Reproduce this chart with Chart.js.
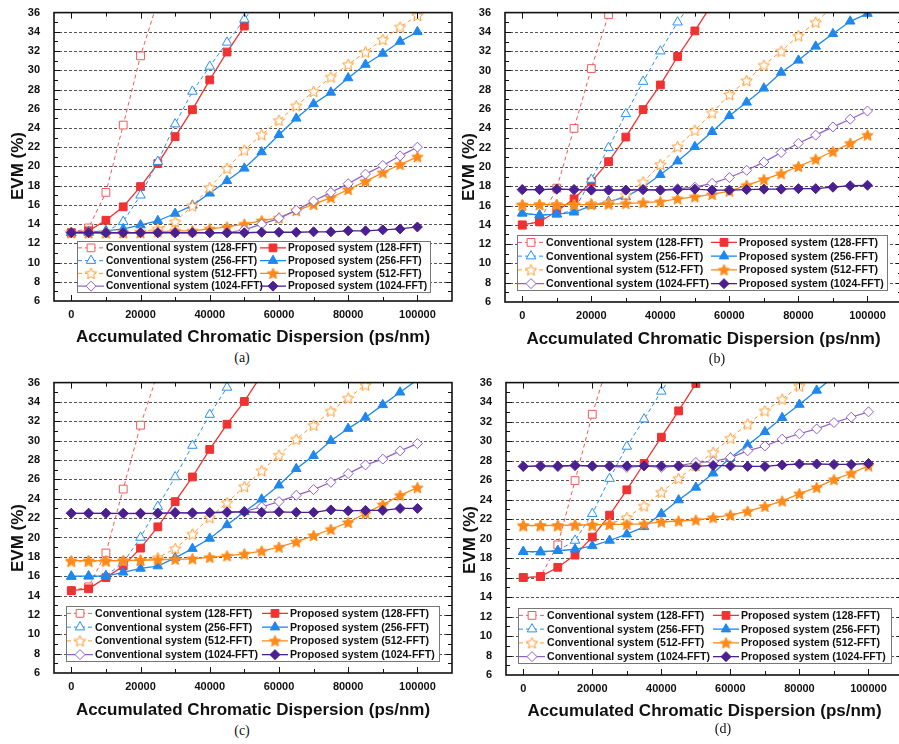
<!DOCTYPE html>
<html lang="en">
<head>
<meta charset="UTF-8">
<title>EVM vs accumulated chromatic dispersion</title>
<script src="https://cdn.jsdelivr.net/npm/chart.js"></script>
<style>
  body { margin: 0; background: #fff; overflow: hidden; }
  #page { position: relative; width: 899px; height: 744px; overflow: hidden; background: #fff; }
  #page canvas { position: absolute; }
  .cap { position: absolute; font: 14px "Liberation Serif", "Times New Roman", serif; color: #111; transform: translateX(-50%); }
</style>
</head>
<body>
<div id="page">
  <canvas id="chartA" width="460" height="348" style="left:0px;top:0px"></canvas>
  <canvas id="chartB" width="460" height="350" style="left:450px;top:0px"></canvas>
  <canvas id="chartC" width="460" height="351" style="left:0px;top:370px"></canvas>
  <canvas id="chartD" width="460" height="352" style="left:450px;top:370px"></canvas>
  <div class="cap" style="left:242px;top:350px">(a)</div>
  <div class="cap" style="left:717px;top:351px">(b)</div>
  <div class="cap" style="left:242px;top:723px">(c)</div>
  <div class="cap" style="left:723px;top:721px">(d)</div>
</div>
<script>
// accumulated CD (ps/nm), one sample every 5000
const cd = [0, 5000, 10000, 15000, 20000, 25000, 30000, 35000, 40000, 45000, 50000,
            55000, 60000, 65000, 70000, 75000, 80000, 85000, 90000, 95000, 100000];
const xTicks = [0, 20000, 40000, 60000, 80000, 100000];
const seriesLabels = [
  'Conventional system (128-FFT)', 'Proposed system (128-FFT)',
  'Conventional system (256-FFT)', 'Proposed system (256-FFT)',
  'Conventional system (512-FFT)', 'Proposed system (512-FFT)',
  'Conventional system (1024-FFT)', 'Proposed system (1024-FFT)'
];

// EVM (%) - panel (a)
const a_conv128 = [13.1, 13.6, 17.3, 24.3, 31.5, 37.2];
const a_prop128 = [13.1, 13.3, 14.4, 15.8, 17.9, 20.3, 23.1, 25.9, 29.0, 31.9, 34.6];
const a_conv256 = [13.1, 13.1, 13.2, 14.25, 17.0, 20.5, 24.4, 27.8, 30.4, 32.9, 35.3, 37.7];
const a_prop256 = [13.1, 13.2, 13.3, 13.5, 13.9, 14.35, 15.1, 15.95, 17.2, 18.5, 19.8, 21.5, 23.3, 25.0, 26.5, 27.7, 29.2, 30.6, 31.75, 33.0, 34.0];
const a_conv512 = [13.1, 13.1, 13.1, 13.1, 13.2, 13.5, 14.25, 15.9, 17.8, 19.8, 21.7, 23.3, 24.8, 26.3, 27.8, 29.3, 30.6, 31.9, 33.2, 34.5, 35.7];
const a_prop512 = [13.1, 13.1, 13.1, 13.1, 13.1, 13.2, 13.3, 13.3, 13.5, 13.7, 14.0, 14.35, 14.65, 15.4, 16.05, 16.75, 17.6, 18.45, 19.35, 20.2, 21.0];
const a_conv1024 = [13.1, 13.1, 13.1, 13.1, 13.1, 13.1, 13.1, 13.1, 13.1, 13.1, 13.4, 14.0, 14.6, 15.45, 16.4, 17.3, 18.2, 19.2, 20.1, 21.1, 22.0];
const a_prop1024 = [13.1, 13.1, 13.1, 13.1, 13.1, 13.1, 13.1, 13.1, 13.1, 13.1, 13.1, 13.15, 13.15, 13.15, 13.2, 13.2, 13.3, 13.3, 13.4, 13.5, 13.7];

// panel (b)
const b_conv128 = [13.95, 14.35, 17.8, 24.0, 30.2, 35.8];
const b_prop128 = [14.0, 14.3, 15.4, 16.7, 18.45, 20.55, 23.1, 25.95, 28.5, 31.45, 34.1, 36.9];
const b_conv256 = [15.2, 15.0, 15.1, 15.5, 18.7, 22.0, 25.5, 28.85, 32.0, 35.0, 37.5];
const b_prop256 = [15.2, 15.0, 15.1, 15.3, 16.0, 16.4, 16.9, 17.9, 19.2, 20.6, 22.1, 23.65, 25.3, 26.7, 28.15, 29.8, 31.05, 32.5, 33.8, 35.1, 35.9];
const b_conv512 = [16.0, 16.1, 16.1, 16.1, 16.2, 16.3, 17.1, 18.45, 20.25, 22.1, 23.8, 25.6, 27.5, 28.95, 30.55, 32.0, 33.6, 35.0, 36.6];
const b_prop512 = [16.1, 16.1, 16.1, 16.1, 16.1, 16.15, 16.2, 16.3, 16.4, 16.7, 16.9, 17.15, 17.5, 18.1, 18.7, 19.3, 20.05, 20.8, 21.6, 22.45, 23.3];
const b_conv1024 = [17.65, 17.65, 17.7, 17.65, 17.6, 17.6, 17.6, 17.65, 17.6, 17.75, 17.9, 18.3, 18.9, 19.65, 20.5, 21.5, 22.45, 23.3, 24.15, 24.95, 25.8];
const b_prop1024 = [17.65, 17.65, 17.7, 17.65, 17.6, 17.6, 17.6, 17.65, 17.6, 17.65, 17.7, 17.6, 17.6, 17.65, 17.7, 17.7, 17.75, 17.75, 17.9, 18.05, 18.1];

// panel (c)
const c_conv128 = [14.5, 14.9, 18.4, 25.0, 31.6, 37.0];
const c_prop128 = [14.5, 14.7, 15.85, 17.05, 18.9, 21.1, 23.7, 26.25, 29.1, 31.7, 34.05, 36.8];
const c_conv256 = [15.95, 16.0, 16.05, 17.4, 20.0, 23.2, 26.25, 29.5, 32.7, 35.5, 38.0];
const c_prop256 = [16.0, 16.0, 16.0, 16.4, 16.8, 17.05, 17.9, 18.85, 19.9, 21.3, 22.65, 23.95, 25.4, 27.1, 28.45, 30.0, 31.25, 32.4, 33.7, 35.0, 36.3];
const c_conv512 = [17.5, 17.5, 17.55, 17.6, 17.65, 17.9, 18.85, 20.35, 22.05, 23.6, 25.25, 26.9, 28.5, 30.15, 31.6, 33.05, 34.4, 35.75, 37.0];
const c_prop512 = [17.6, 17.6, 17.6, 17.6, 17.65, 17.7, 17.75, 17.8, 17.95, 18.1, 18.3, 18.6, 19.0, 19.55, 20.2, 20.85, 21.55, 22.5, 23.4, 24.35, 25.15];
const c_conv1024 = [22.5, 22.5, 22.5, 22.45, 22.45, 22.5, 22.6, 22.5, 22.6, 22.65, 22.7, 23.15, 23.7, 24.35, 24.95, 25.7, 26.6, 27.5, 28.1, 28.95, 29.7];
const c_prop1024 = [22.5, 22.5, 22.5, 22.5, 22.5, 22.5, 22.55, 22.55, 22.55, 22.6, 22.65, 22.6, 22.65, 22.6, 22.6, 22.85, 22.75, 22.8, 22.8, 23.0, 23.0];

// panel (d)
const d_conv128 = [16.0, 16.1, 19.35, 25.95, 32.75, 38.5];
const d_prop128 = [16.0, 16.1, 17.05, 18.3, 20.15, 22.4, 25.0, 27.7, 30.4, 33.1, 35.9, 38.7];
const d_conv256 = [18.65, 18.6, 18.75, 19.8, 22.55, 26.15, 29.45, 32.25, 35.1, 37.8];
const d_prop256 = [18.65, 18.65, 18.75, 18.9, 19.25, 19.8, 20.45, 21.2, 22.55, 23.95, 25.25, 26.7, 28.3, 29.6, 30.95, 32.4, 33.75, 35.2, 36.6];
const d_conv512 = [21.3, 21.3, 21.3, 21.35, 21.35, 21.5, 22.15, 23.35, 24.75, 26.15, 27.5, 28.85, 30.3, 31.75, 33.1, 34.3, 35.65, 37.0];
const d_prop512 = [21.35, 21.35, 21.35, 21.4, 21.4, 21.45, 21.45, 21.5, 21.7, 21.8, 21.9, 22.15, 22.4, 22.8, 23.3, 23.85, 24.6, 25.25, 26.05, 26.7, 27.45];
const d_conv1024 = [27.4, 27.4, 27.35, 27.5, 27.4, 27.4, 27.3, 27.45, 27.3, 27.45, 27.8, 27.9, 28.3, 29.0, 29.5, 30.2, 30.75, 31.25, 31.9, 32.45, 33.0];
const d_prop1024 = [27.4, 27.45, 27.45, 27.5, 27.45, 27.45, 27.45, 27.45, 27.45, 27.45, 27.4, 27.5, 27.45, 27.4, 27.4, 27.55, 27.65, 27.65, 27.6, 27.6, 27.7];

const FONT = '"Liberation Sans", Arial, Helvetica, sans-serif';

// 5-point star used as a point style
function starImage(r, fill, stroke) {
  const c = document.createElement('canvas');
  const s = Math.ceil(2 * r + 3);
  c.width = c.height = s;
  const g = c.getContext('2d');
  g.translate(s / 2, s / 2 + 0.5);
  g.beginPath();
  for (let k = 0; k < 10; k++) {
    const rad = k % 2 ? r * 0.45 : r;
    const ang = -Math.PI / 2 + k * Math.PI / 5;
    g.lineTo(rad * Math.cos(ang), rad * Math.sin(ang));
  }
  g.closePath();
  g.fillStyle = fill;
  g.fill();
  g.strokeStyle = stroke;
  g.lineWidth = 1;
  g.stroke();
  return c;
}

const styles = [
  { color: '#f25a5a', dash: [4, 3], shape: 'rect', open: true, r: 5.5, lw: 1 },
  { color: '#f03232', dash: [], shape: 'rect', open: false, r: 5.5, lw: 1.3 },
  { color: '#2a8ff0', dash: [4, 3], shape: 'triangle', open: true, r: 5.5, lw: 1 },
  { color: '#1e88ee', dash: [], shape: 'triangle', open: false, r: 5.5, lw: 1.3 },
  { color: '#ff9a30', dash: [4, 3], shape: 'star', open: true, r: 6, lw: 1 },
  { color: '#ff8a1a', dash: [], shape: 'star', open: false, r: 6, lw: 1.3 },
  { color: '#9060c8', dash: [], shape: 'rectRot', open: true, r: 5, lw: 1.2 },
  { color: '#4a1f8f', dash: [], shape: 'rectRot', open: false, r: 5, lw: 1.3 }
];

// gridlines, boxed frame with inward ticks, y title and the inset legend
const framePlugin = {
  id: 'frame',
  beforeDatasetsDraw(chart) {
    const { ctx, chartArea: ca, scales } = chart;
    ctx.save();
    ctx.strokeStyle = '#555';
    ctx.lineWidth = 1;
    ctx.setLineDash([3, 2]);
    scales.y.ticks.forEach(t => {
      if (t.value <= scales.y.min || t.value >= scales.y.max) return;
      const y = Math.round(scales.y.getPixelForValue(t.value)) + 0.5;
      ctx.beginPath();
      ctx.moveTo(ca.left, y);
      ctx.lineTo(ca.right, y);
      ctx.stroke();
    });
    ctx.restore();
  },
  afterDatasetsDraw(chart, args, opts) {
    const { ctx, chartArea: ca, scales } = chart;
    const xs = scales.x, ys = scales.y;
    ctx.save();
    ctx.strokeStyle = '#111';
    ctx.lineWidth = 1;
    ctx.setLineDash([]);
    ctx.beginPath();
    for (let v = 10000; v < xs.max; v += 10000) {
      const x = Math.round(xs.getPixelForValue(v)) + 0.5;
      const len = v % 20000 === 0 ? 6 : 4;
      ctx.moveTo(x, ca.bottom); ctx.lineTo(x, ca.bottom - len);
      ctx.moveTo(x, ca.top); ctx.lineTo(x, ca.top + len);
    }
    const x0 = Math.round(xs.getPixelForValue(0)) + 0.5;
    ctx.moveTo(x0, ca.bottom); ctx.lineTo(x0, ca.bottom - 6);
    ctx.moveTo(x0, ca.top); ctx.lineTo(x0, ca.top + 6);
    for (let v = ys.min + 1; v < ys.max; v += 1) {
      const y = Math.round(ys.getPixelForValue(v)) + 0.5;
      const len = v % 2 === 0 ? 6 : 4;
      ctx.moveTo(ca.left, y); ctx.lineTo(ca.left + len, y);
      ctx.moveTo(ca.right, y); ctx.lineTo(ca.right - len, y);
    }
    ctx.stroke();
    ctx.lineWidth = 1.6;
    ctx.strokeRect(ca.left, ca.top, ca.right - ca.left, ca.bottom - ca.top);

    // y axis title
    ctx.save();
    ctx.translate(opts.yTitle[0], opts.yTitle[1]);
    ctx.rotate(-Math.PI / 2);
    ctx.fillStyle = '#111';
    ctx.font = 'bold 17px ' + FONT;
    ctx.textAlign = 'center';
    ctx.textBaseline = 'middle';
    ctx.fillText('EVM (%)', 0, 0);
    ctx.restore();

    // legend box: conventional on the left, proposed on the right
    const lg = opts.legend;
    ctx.fillStyle = '#fff';
    ctx.fillRect(lg.x, lg.y, lg.w, lg.h);
    ctx.strokeStyle = '#777';
    ctx.lineWidth = 1;
    ctx.strokeRect(lg.x + 0.5, lg.y + 0.5, lg.w, lg.h);
    const rowH = lg.h / 4;
    ctx.font = 'bold ' + lg.font + 'px ' + FONT;
    ctx.textBaseline = 'middle';
    ctx.textAlign = 'left';
    for (let r = 0; r < 4; r++) {
      const cy = lg.y + rowH * (r + 0.5) + 0.5;
      for (let c = 0; c < 2; c++) {
        const ds = chart.data.datasets[r * 2 + c];
        const sx = lg.x + (c ? lg.col2 : 1);
        ctx.strokeStyle = ds.borderColor;
        ctx.lineWidth = ds.borderWidth;
        ctx.setLineDash(ds.borderDash);
        ctx.beginPath();
        ctx.moveTo(sx, cy);
        ctx.lineTo(sx + 26, cy);
        ctx.stroke();
        ctx.setLineDash([]);
        ctx.fillStyle = ds.pointBackgroundColor;
        ctx.strokeStyle = ds.pointBorderColor;
        ctx.lineWidth = ds.pointBorderWidth;
        Chart.helpers.drawPoint(ctx, {
          pointStyle: ds.pointStyle, radius: ds.pointRadius,
          borderWidth: ds.pointBorderWidth, rotation: 0
        }, sx + 13, cy);
        ctx.fillStyle = '#111';
        ctx.fillText(seriesLabels[r * 2 + c], sx + 28, cy + 0.5);
      }
    }
    ctx.restore();
  }
};

function makePanel(id, series, geo) {
  const canvas = document.getElementById(id);
  const W = canvas.width, H = canvas.height;
  const datasets = series.map((vals, i) => {
    const st = styles[i];
    const fill = st.open ? '#fff' : st.color;
    return {
      label: seriesLabels[i],
      data: vals.map((v, k) => ({ x: cd[k], y: v })),
      borderColor: st.color,
      borderWidth: st.lw,
      borderDash: st.dash,
      pointStyle: st.shape === 'star' ? starImage(st.r, fill, st.color) : st.shape,
      pointRadius: st.r,
      pointBackgroundColor: fill,
      pointBorderColor: st.color,
      pointBorderWidth: 1,
      tension: 0,
      clip: 0,
      order: series.length - i
    };
  });

  return new Chart(canvas, {
    type: 'line',
    data: { datasets },
    plugins: [framePlugin],
    options: {
      responsive: false,
      animation: false,
      devicePixelRatio: 1,
      events: [],
      layout: { padding: { left: 0, top: geo.T, right: W - geo.R, bottom: 0 } },
      plugins: {
        legend: { display: false },
        tooltip: { enabled: false },
        frame: { legend: geo.legend, yTitle: geo.yTitle }
      },
      scales: {
        x: {
          type: 'linear',
          min: -5000,
          max: 110000,
          afterBuildTicks: s => { s.ticks = xTicks.map(v => ({ value: v })); },
          afterFit: s => { s.height = H - geo.B; },
          grid: { display: false },
          border: { display: false },
          ticks: {
            autoSkip: false, maxRotation: 0, padding: -1, color: '#111',
            font: { family: FONT, size: 11, weight: 'bold' },
            callback: v => String(v)
          },
          title: {
            display: true,
            text: 'Accumulated Chromatic Dispersion (ps/nm)',
            color: '#111',
            padding: 0,
            font: { family: FONT, size: 17, weight: 'bold' }
          }
        },
        y: {
          min: 6,
          max: 36,
          afterFit: s => { s.width = geo.L; },
          grid: { display: false },
          border: { display: false },
          ticks: {
            stepSize: 2, padding: 6, color: '#111',
            font: { family: FONT, size: 11, weight: 'bold' }
          }
        }
      }
    }
  });
}

makePanel('chartA',
  [a_conv128, a_prop128, a_conv256, a_prop256, a_conv512, a_prop512, a_conv1024, a_prop1024],
  { L: 54, T: 7, R: 452, B: 301, yTitle: [18, 166],
    legend: { x: 77, y: 241, w: 353, h: 51, col2: 183, font: 10.2 } });

makePanel('chartB',
  [b_conv128, b_prop128, b_conv256, b_prop256, b_conv512, b_prop512, b_conv1024, b_prop1024],
  { L: 55, T: 8, R: 452, B: 302, yTitle: [19, 167],
    legend: { x: 67, y: 235, w: 370, h: 55, col2: 194, font: 10.6 } });

makePanel('chartC',
  [c_conv128, c_prop128, c_conv256, c_prop256, c_conv512, c_prop512, c_conv1024, c_prop1024],
  { L: 54, T: 9, R: 452, B: 303, yTitle: [18, 168],
    legend: { x: 66, y: 236, w: 373, h: 55, col2: 196, font: 10.6 } });

makePanel('chartD',
  [d_conv128, d_prop128, d_conv256, d_prop256, d_conv512, d_prop512, d_conv1024, d_prop1024],
  { L: 56, T: 11, R: 454, B: 305, yTitle: [20, 170],
    legend: { x: 68, y: 238, w: 373, h: 55, col2: 195, font: 10.6 } });
</script>
</body>
</html>
